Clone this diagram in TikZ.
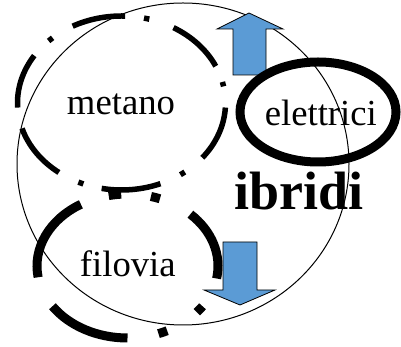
\documentclass[tikz,border=0pt]{standalone}
\usepackage{fontspec}
\setmainfont{Liberation Serif}
\usepackage{xcolor}
\definecolor{arrblue}{HTML}{5B9BD5}

\begin{document}
\begin{tikzpicture}[
  x=1pt, y=1pt,
  setname/.style={anchor=base, inner sep=0pt, font=\fontsize{36.7}{40}\selectfont},
  metdash/.style={line width=5.5pt},
  fildash/.style={line width=9pt},
  bluearrow/.style={draw=black, line width=0.8pt, fill=arrblue, line join=miter}
]
  \useasboundingbox (0,0) rectangle (401,347);

  % centres of the sets
  \coordinate (bigC) at (183,183);
  \coordinate (metC) at (121.5,244);
  \coordinate (filC) at (127.5,81);
  \coordinate (eleC) at (318,235);

  % outer set
  \draw[line width=1pt] (bigC) ellipse [x radius=166pt, y radius=161pt];

  % blue arrows
  \draw[bluearrow] (233,272) -- (233,318) -- (217,318) -- (249,334) -- (283,318) -- (266,318) -- (266,272) -- cycle;
  \draw[bluearrow] (223,105) -- (223,57) -- (204,57) -- (240,42) -- (275,57) -- (257,57) -- (257,105) -- cycle;

  % metano, long dash dot
  \foreach \a/\b in {-39/-3, 11/14, 25/60, 74.5/77.5, 88/118, 131.5/134.5, 147/183, 197/233, 245.5/248.5, 259/292, 304.5/307.5}
    \draw[metdash] (metC) ++(\a:104pt and 87pt) arc[start angle=\a, end angle=\b, x radius=104pt, y radius=87pt];

  % filovia, heavier
  \foreach \a/\b in {-10/46, 69/75, 94/102, 121/189, 214/270, 290/296, 320/326}
    \draw[fildash] (filC) ++(\a:90.5pt and 72pt) arc[start angle=\a, end angle=\b, x radius=90.5pt, y radius=72pt];

  % elettrici
  \draw[line width=9pt] (eleC) ellipse [x radius=78pt, y radius=50pt];

  \node[setname] (metano) at (121,232) {metano};
  \node[setname] (elettrici) at (320.8,221) {elettrici};
  \node[setname] (filovia) at (127.8,70.3) {filovia};
  \node[setname, font=\fontsize{54}{58}\selectfont\bfseries] (ibridi) at (299,137) {ibridi};
\end{tikzpicture}
\end{document}
